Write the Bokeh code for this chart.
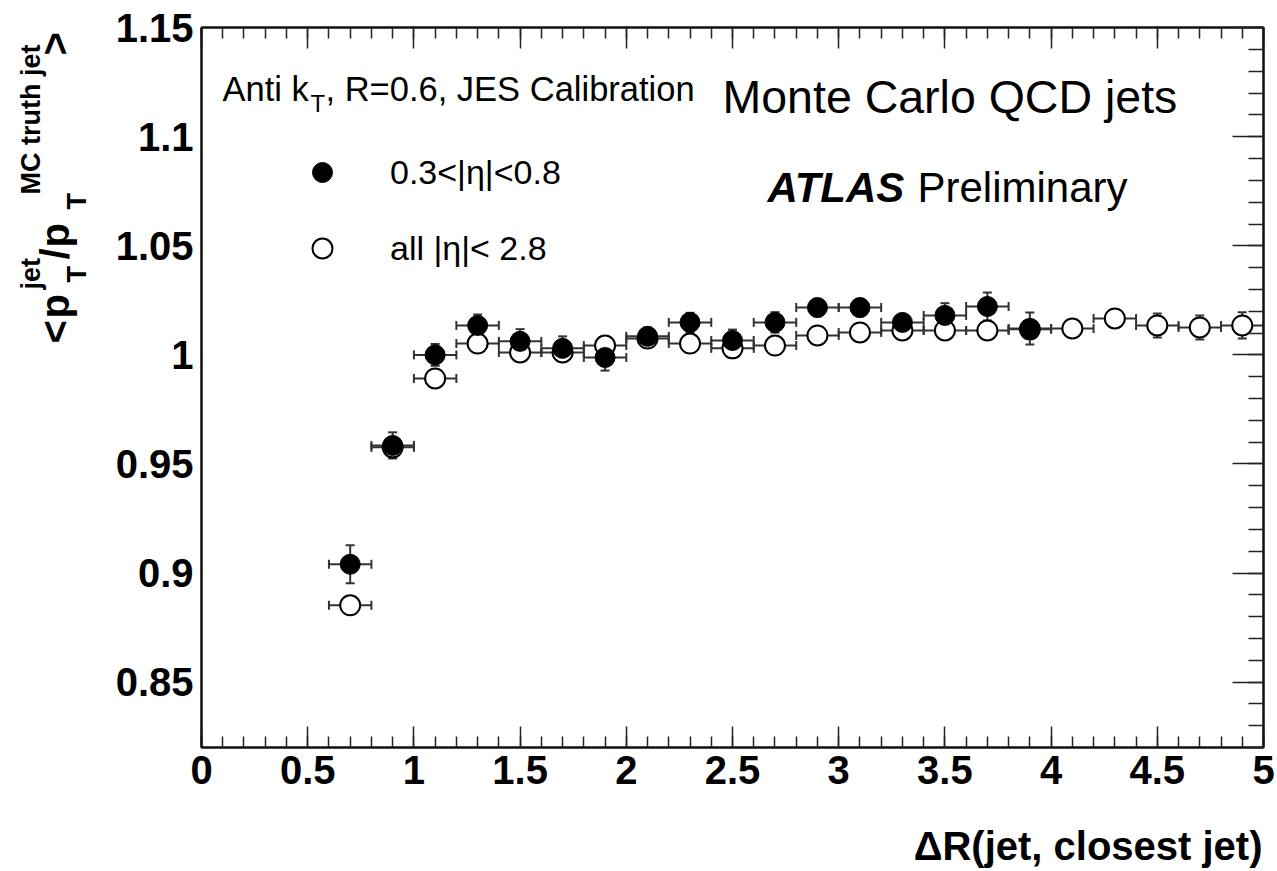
import math
from bokeh.plotting import figure
from bokeh.layouts import row, column
from bokeh.models import (Range1d, LinearAxis, Whisker, TeeHead, ColumnDataSource, Label,
                          Legend, LegendItem, SingleIntervalTicker, CustomJSTickFormatter)
from bokeh.embed import file_html
from bokeh.resources import INLINE

# ---------------- data ----------------
dr_central = [0.7, 0.9, 1.1, 1.3, 1.5, 1.7, 1.9, 2.1, 2.3, 2.5, 2.7, 2.9, 3.1, 3.3, 3.5, 3.7, 3.9]
resp_central = [0.904, 0.9585, 1.0, 1.0135, 1.0062, 1.003, 0.9988, 1.0085, 1.0149, 1.0066,
                1.0149, 1.0217, 1.0217, 1.0149, 1.0181, 1.0222, 1.0121]
err_central = [0.0087, 0.006, 0.005, 0.005, 0.0056, 0.0055, 0.006, 0.004, 0.0044, 0.005,
               0.0047, 0.004, 0.004, 0.003, 0.0056, 0.0064, 0.0073]

dr_all = [0.7, 0.9, 1.1, 1.3, 1.5, 1.7, 1.9, 2.1, 2.3, 2.5, 2.7, 2.9, 3.1, 3.3, 3.5, 3.7, 3.9,
          4.1, 4.3, 4.5, 4.7, 4.9]
resp_all = [0.8852, 0.9576, 0.9892, 1.0052, 1.0011, 1.0011, 1.0043, 1.0075, 1.0052, 1.003,
            1.0043, 1.0089, 1.0103, 1.0112, 1.0112, 1.0112, 1.0117, 1.0121, 1.0167, 1.0135,
            1.0126, 1.0135]
err_all = [0.002, 0.002, 0.002, 0.002, 0.002, 0.002, 0.002, 0.002, 0.002, 0.002, 0.002,
           0.002, 0.002, 0.002, 0.002, 0.002, 0.003, 0.003, 0.004, 0.0055, 0.0055, 0.006]

bin_half_width = 0.1

x_ticks_major = 0.5
y_ticks_major = 0.05

legend_labels = ["0.3<|η|<0.8", "all |η|< 2.8"]

FONT = "Liberation Sans"

# ---------------- layout geometry (screen pixels) ----------------
TOTAL_W, TOTAL_H = 1277, 871
YLAB_W = 100          # left strip holding the rotated y-axis title
XLAB_H = 50           # bottom strip holding the x-axis title
MAIN_W = TOTAL_W - YLAB_W
MAIN_H = TOTAL_H - XLAB_H
FRAME_L, FRAME_T, FRAME_R, FRAME_B = 201, 27, 1263, 747

# ---------------- main figure ----------------
p = figure(width=MAIN_W, height=MAIN_H, x_range=Range1d(0, 5), y_range=Range1d(0.82, 1.1501),
           output_backend="svg", toolbar_location=None, title=None,
           x_axis_location=None, y_axis_location=None,
           min_border_left=FRAME_L - YLAB_W, min_border_right=TOTAL_W - FRAME_R,
           min_border_top=FRAME_T, min_border_bottom=MAIN_H - FRAME_B)
p.xgrid.visible = False
p.ygrid.visible = False
p.outline_line_color = "#111111"
p.outline_line_width = 2
p.background_fill_color = "white"
p.border_fill_color = "white"

fmt = CustomJSTickFormatter(code="""
let s = tick.toFixed(2);
s = s.replace(/0+$/, '').replace(/\\.$/, '');
return s;
""")
blank = CustomJSTickFormatter(code="return '';")

xt = SingleIntervalTicker(interval=x_ticks_major, num_minor_ticks=5)
yt = SingleIntervalTicker(interval=y_ticks_major, num_minor_ticks=5)

def style_axis(ax, labels, maj_in, min_in):
    ax.axis_line_width = 2
    ax.axis_line_color = "#111111"
    ax.major_tick_out = 0
    ax.minor_tick_out = 0
    ax.major_tick_in = maj_in
    ax.minor_tick_in = min_in
    ax.major_tick_line_width = 1.5
    ax.minor_tick_line_width = 1.5
    ax.major_tick_line_color = "#222222" if maj_in > 0 else None
    ax.minor_tick_line_color = "#222222" if min_in > 0 else None
    if labels:
        ax.major_label_text_font = FONT
        ax.major_label_text_font_size = "40px"
        ax.major_label_text_font_style = "bold"
        ax.major_label_text_color = "black"
        ax.formatter = fmt
    else:
        ax.formatter = blank
        ax.major_label_text_font_size = "10px"
        ax.major_label_standoff = 0

bx = LinearAxis(ticker=xt)
style_axis(bx, True, 21, 11)
bx.major_label_standoff = 8
p.add_layout(bx, "below")

tx = LinearAxis(ticker=xt)
style_axis(tx, False, 21, 11)
p.add_layout(tx, "above")

ly = LinearAxis(ticker=yt)
style_axis(ly, True, 0, 0)
ly.major_label_standoff = 8
p.add_layout(ly, "left")

ry = LinearAxis(ticker=yt)
style_axis(ry, False, 31, 15)
p.add_layout(ry, "right")

# ---------------- data glyphs ----------------
src_c = ColumnDataSource(dict(
    x=dr_central, y=resp_central,
    xl=[v - bin_half_width for v in dr_central], xu=[v + bin_half_width for v in dr_central],
    yl=[r - e for r, e in zip(resp_central, err_central)],
    yu=[r + e for r, e in zip(resp_central, err_central)]))
src_a = ColumnDataSource(dict(
    x=dr_all, y=resp_all,
    xl=[v - bin_half_width for v in dr_all], xu=[v + bin_half_width for v in dr_all],
    yl=[r - e for r, e in zip(resp_all, err_all)],
    yu=[r + e for r, e in zip(resp_all, err_all)]))

ERR_COL = "#333333"

def add_err(src):
    for dim, lo, hi, base in (("width", "xl", "xu", "y"), ("height", "yl", "yu", "x")):
        w = Whisker(source=src, base=base, lower=lo, upper=hi, dimension=dim,
                    line_color=ERR_COL, line_width=2,
                    lower_head=TeeHead(size=9, line_color=ERR_COL, line_width=2),
                    upper_head=TeeHead(size=9, line_color=ERR_COL, line_width=2))
        p.add_layout(w)

add_err(src_a)
add_err(src_c)

r_all = p.scatter("x", "y", source=src_a, size=20, marker="circle",
                  fill_color="white", line_color="black", line_width=2)
r_c = p.scatter("x", "y", source=src_c, size=20, marker="circle",
                fill_color="black", line_color="black", line_width=1)

# ---------------- legend ----------------
leg = Legend(items=[LegendItem(label=legend_labels[0], renderers=[r_c]),
                    LegendItem(label=legend_labels[1], renderers=[r_all])],
             location=(96, 474), orientation="vertical",
             glyph_width=50, glyph_height=50, label_height=50, label_standoff=43,
             spacing=26, padding=0, margin=0,
             border_line_color=None, background_fill_alpha=0,
             label_text_font=FONT, label_text_font_size="34px", label_text_color="black")
p.add_layout(leg)

# ---------------- texts (anchor = vertical middle of the text line) ----------------
def lab(fig, text, x, y, size, angle=0.0, style="normal", align="left"):
    fig.add_layout(Label(x=x, y=y, x_units="screen", y_units="screen", text=text,
                         text_font=FONT, text_font_size=f"{size}px", text_font_style=style,
                         angle=angle, text_align=align, text_baseline="middle",
                         text_color="black"))

def flab(text, X, Y, size, **kw):   # X, Y: screenshot pixels (Y = middle of caps)
    lab(p, text, X - FRAME_L, FRAME_B - Y, size, **kw)

flab("Anti k", 222, 88, 34.5)
flab("T", 310, 103, 24)
flab(", R=0.6, JES Calibration", 325, 88, 34.5)
flab("Monte Carlo QCD jets", 722, 96, 46.5)
flab("ATLAS", 767, 187, 42, style="bold italic")
flab("Preliminary", 917, 187, 42)

# ---------------- title strips ----------------
def strip(w, h, top=0, bottom=0):
    f = figure(width=w, height=h, x_range=Range1d(0, 1), y_range=Range1d(0, 1),
               output_backend="svg", toolbar_location=None, title=None,
               x_axis_location=None, y_axis_location=None,
               min_border=0, min_border_left=0, min_border_right=0,
               min_border_top=top, min_border_bottom=bottom)
    f.xgrid.visible = False
    f.ygrid.visible = False
    f.outline_line_color = None
    f.background_fill_color = "white"
    f.border_fill_color = "white"
    return f

# y-axis title (rotated pieces); the strip's frame matches the main frame vertically
yl = strip(YLAB_W, MAIN_H, top=FRAME_T, bottom=MAIN_H - FRAME_B)
A = math.pi / 2
def ylab(text, X, Y, size, **kw):   # X = middle line of the rotated text, Y = its start
    lab(yl, text, X, FRAME_B - Y, size, angle=A, **kw)

ylab("<", 54, 343, 40, style="bold")
ylab("p", 54, 318, 40, style="bold")
ylab("T", 76, 282, 27, style="bold")
ylab("jet", 30, 289, 27, style="bold")
ylab("/", 54, 259, 40, style="bold")
ylab("p", 54, 247, 40, style="bold")
ylab("T", 76, 209, 27, style="bold")
ylab("MC truth jet", 30, 194, 27, style="bold")
ylab(">", 54, 55, 40, style="bold")

# x-axis title, bottom strip spans screenshot y MAIN_H..TOTAL_H
xl = strip(TOTAL_W, XLAB_H)
lab(xl, "ΔR(jet, closest jet)", 1262, TOTAL_H - 845, 40, style="bold", align="right")

layout = column(row(yl, p, spacing=0), xl, spacing=0)

open("out.html", "w").write(file_html(layout, INLINE))
